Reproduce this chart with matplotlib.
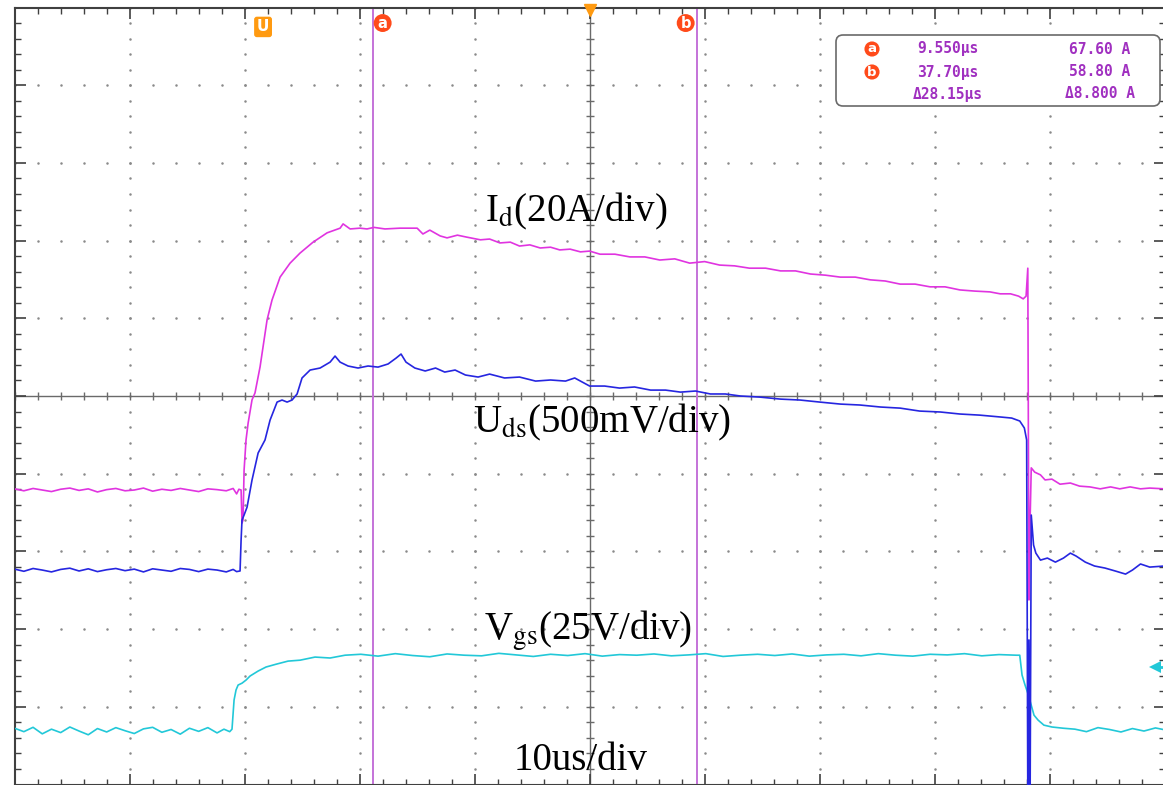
import matplotlib
matplotlib.use('Agg')
import numpy as np
import matplotlib.pyplot as plt
from matplotlib.patches import FancyBboxPatch
from matplotlib.transforms import Affine2D

id_t = [-21.6, -20.8, -20.0, -19.2, -18.4, -17.6, -16.8, -16.0, -15.2, -14.4,
        -13.6, -12.8, -12.0, -11.2, -10.4, -9.6, -8.8, -8.0, -7.2, -6.4,
        -5.6, -4.8, -4.0, -3.2, -2.6, -2.3, -2.1, -1.91, -1.83, -1.74,
        -1.65, -1.48, -1.30, -0.96, -0.70, -0.26, 0.35, 0.78, 1.48, 2.35,
        3.22, 4.35, 5.57, 6.70, 6.96, 7.57, 8.43, 9.04, 9.65, 10.6,
        11.9, 13.4, 13.9, 14.5, 15.4, 16.0, 16.9, 17.7, 18.9, 19.7,
        20.6, 21.5, 22.3, 23.2, 24.1, 25.0, 25.8, 26.7, 27.6, 28.4,
        29.3, 30.6, 31.9, 33.2, 34.5, 35.8, 37.1, 38.4, 39.7, 41.0,
        42.3, 43.7, 45.0, 46.3, 47.6, 48.9, 50.2, 51.5, 52.8, 54.1,
        55.4, 56.7, 58.0, 59.3, 60.6, 61.9, 63.2, 64.1, 65.0, 65.7,
        66.1, 66.35, 66.5, 66.6, 66.7, 66.8, 67.1, 67.6, 68.0, 68.6,
        69.3, 70.2, 71.0, 71.9, 72.8, 73.7, 74.5, 75.4, 76.3, 77.1,
        78.4]
id_a = [0.3, -0.2, 0.4, 0.0, -0.4, 0.2, 0.5, -0.1, 0.3, -0.5,
        0.1, 0.4, -0.2, 0.0, 0.5, -0.3, 0.2, -0.1, 0.4, 0.0,
        -0.4, 0.3, 0.1, -0.2, 0.4, -1.0, 0.2, 0.0, -8.5, -7.7,
        5.1, 12.9, 17.2, 23.2, 25.0, 31.7, 43.8, 48.9, 54.8, 58.4,
        61.0, 63.8, 66.2, 67.4, 68.5, 67.2, 67.4, 67.2, 67.6, 67.2,
        67.4, 67.4, 65.9, 66.9, 65.4, 64.9, 65.6, 65.1, 64.4, 64.6,
        63.6, 63.8, 62.8, 63.1, 62.3, 62.5, 61.8, 62.0, 61.3, 61.5,
        60.7, 60.7, 60.0, 60.0, 59.2, 59.5, 58.4, 58.8, 57.9, 57.7,
        57.1, 57.1, 56.4, 56.4, 55.6, 55.3, 54.8, 54.8, 54.1, 53.8,
        53.0, 53.0, 52.3, 52.3, 51.5, 51.2, 51.0, 50.5, 50.5, 49.9,
        49.2, 49.9, 57.1, -28.3, -7.7, 5.7, 4.6, 3.9, 2.6, 2.8,
        1.5, 1.8, 1.0, 0.8, 0.3, 0.8, 0.3, 0.8, 0.3, 0.5,
        0.3]

uds_t = [-21.6, -20.8, -20.0, -19.2, -18.4, -17.6, -16.8, -16.0, -15.2, -14.4,
         -13.6, -12.8, -12.0, -11.2, -10.4, -9.6, -8.8, -8.0, -7.2, -6.4,
         -5.6, -4.8, -4.0, -3.2, -2.6, -2.3, -2.0, -1.91, -1.83, -1.65,
         -1.39, -0.96, -0.43, 0.17, 0.61, 1.22, 1.65, 2.09, 2.52, 2.96,
         3.39, 4.09, 4.96, 5.83, 6.26, 6.70, 7.39, 8.26, 9.13, 10.0,
         10.87, 11.57, 12.0, 12.43, 13.2, 14.1, 15.0, 15.8, 16.7, 17.6,
         18.7, 19.7, 21.0, 22.3, 23.7, 25.0, 26.3, 27.1, 28.4, 29.7,
         31.0, 32.3, 33.7, 35.0, 36.3, 37.6, 38.9, 40.2, 41.5, 43.2,
         45.0, 46.7, 48.4, 50.2, 51.9, 53.7, 55.4, 57.1, 58.9, 60.6,
         62.3, 64.1, 65.1, 65.8, 66.2, 66.4, 66.5, 66.6, 66.7, 66.8,
         67.0, 67.2, 67.6, 68.2, 68.9, 69.6, 70.2, 70.7, 71.5, 72.3,
         73.2, 74.1, 75.0, 75.6, 76.3, 77.1, 78.4]
uds_v = [0.006, -0.008, 0.010, 0.0, -0.012, 0.004, 0.012, -0.006, 0.008, -0.010,
         0.002, 0.010, -0.004, 0.006, -0.012, 0.008, 0.0, -0.008, 0.010, 0.004,
         -0.010, 0.006, 0.0, -0.012, 0.004, -0.010, -0.006, 0.193, 0.322, 0.354,
         0.405, 0.579, 0.753, 0.837, 0.965, 1.081, 1.094, 1.081, 1.094, 1.133,
         1.236, 1.287, 1.300, 1.338, 1.377, 1.338, 1.313, 1.300, 1.313, 1.306,
         1.326, 1.364, 1.390, 1.338, 1.300, 1.281, 1.300, 1.274, 1.287, 1.255,
         1.242, 1.261, 1.236, 1.242, 1.216, 1.223, 1.216, 1.236, 1.184, 1.184,
         1.171, 1.178, 1.158, 1.158, 1.145, 1.152, 1.133, 1.133, 1.120, 1.113,
         1.100, 1.094, 1.081, 1.068, 1.062, 1.049, 1.042, 1.023, 1.017, 1.004,
         0.997, 0.985, 0.978, 0.959, 0.914, 0.837, -1.48, -0.45, -1.48, 0.354,
         0.161, 0.109, 0.064, 0.077, 0.051, 0.077, 0.109, 0.090, 0.051, 0.026,
         0.013, -0.006, -0.026, 0.0, 0.039, 0.019, 0.026]

vgs_t = [-21.6, -20.8, -20.0, -19.2, -18.4, -17.6, -16.8, -16.0, -15.2, -14.4,
         -13.6, -12.8, -12.0, -11.2, -10.4, -9.6, -8.8, -8.0, -7.2, -6.4,
         -5.6, -4.8, -4.0, -3.4, -2.9, -2.7, -2.52, -2.35, -2.17, -1.83,
         -1.48, -1.13, -0.43, 0.26, 1.13, 2.17, 3.22, 4.52, 5.83, 7.13,
         8.5, 10.0, 11.5, 13.0, 14.5, 16.0, 17.5, 19.0, 20.5, 22.0,
         23.5, 25.0, 26.5, 28.0, 29.5, 31.0, 32.5, 34.0, 35.5, 37.0,
         38.5, 40.0, 41.5, 43.0, 44.5, 46.0, 47.5, 49.0, 50.5, 52.0,
         53.5, 55.0, 56.5, 58.0, 59.5, 61.0, 62.5, 64.0, 65.5,
         65.8, 66.0, 66.26, 66.5, 66.8, 67.04, 67.4, 67.9, 68.6, 69.6,
         70.6, 71.6, 72.6, 73.6, 74.6, 75.6, 76.6, 77.6, 78.4]
vgs_v = [0.6, -0.5, 0.9, -1.2, 0.3, -0.8, 1.0, -0.3, -1.5, 0.5,
         -0.6, 0.8, -0.2, -1.1, 0.4, 0.9, -0.7, 0.2, -1.3, 0.6,
         -0.4, 0.8, -0.9, 0.3, -0.5, 0.3, 9.7, 12.9, 14.5, 15.1,
         16.1, 17.4, 19.0, 20.3, 21.2, 22.2, 22.5, 23.5, 23.2, 24.1,
         24.4, 23.8, 24.6, 24.0, 23.6, 24.5, 24.1, 23.9, 24.7, 24.2,
         23.7, 24.4, 24.0, 24.6, 23.8, 24.3, 24.1, 24.5, 23.9, 24.2,
         24.6, 23.7, 24.1, 24.4, 24.0, 24.5, 23.8, 24.2, 24.4, 23.9,
         24.6, 24.1, 23.8, 24.4, 24.2, 24.6, 23.9, 24.3, 24.1,
         24.1, 17.7, 14.5, 11.9, 8.0, 4.8, 3.2, 1.6, 1.0, 0.6,
         0.3, -0.5, 0.8, 0.2, -0.6, 0.5, -0.3, 0.7, 0.1]

# Cursores y lectura
cursor_a = 9.55
cursor_b = 37.70
readout_t = ['9.550\u00b5s', '37.70\u00b5s', '\u039428.15\u00b5s']
readout_i = ['67.60 A', '58.80 A', '\u03948.800 A']

# Escalas (unidades por division) y posicion de cada canal en divisiones
ID_SCALE, ID_POS = 20.0, -1.21
UDS_SCALE, UDS_POS = 0.5, -2.24
VGS_SCALE, VGS_POS = 25.0, -4.30

T_LEFT = -21.57          # borde izquierdo de la pantalla en us
T_DIV = 10.0             # 10 us/div
t_center = T_LEFT + 5 * T_DIV

W, H = 1163, 785
plt.rcParams['mathtext.fontset'] = 'stix'
fig = plt.figure(figsize=(W / 100, H / 100), dpi=100)
ax = fig.add_axes([15 / W, 0.5 / H, 1150 / W, 777 / H])
pix = Affine2D().scale(1 / W, 1 / H) + fig.transFigure

ax.set_xlim(T_LEFT, T_LEFT + 10 * T_DIV)
ax.set_ylim(-5, 5)

# Reticula punteada
xmaj = T_LEFT + T_DIV * np.arange(11)
xmin = T_LEFT + T_DIV / 5 * np.arange(51)
ymaj = np.arange(-5, 6)
ymin = np.linspace(-5, 5, 51)
dot = dict(ls='none', marker='o', ms=1.8, color='#8a8a8a', mew=0, zorder=1)
for xm in xmaj[1:-1]:
    if abs(xm - t_center) > 1e-6:
        ax.plot(np.full(len(ymin), xm), ymin, **dot)
for ym in ymaj[1:-1]:
    if ym != 0:
        ax.plot(xmin, np.full(len(xmin), ym), **dot)

# Ejes centrales con marcas
ax.axhline(0, color='#6a6a6a', lw=1.0, zorder=1)
ax.axvline(t_center, color='#6a6a6a', lw=1.0, zorder=1)
ax.plot(xmin, np.zeros(len(xmin)), ls='none', marker='|', ms=6, color='#6a6a6a', zorder=1)
ax.plot(np.full(len(ymin), t_center), ymin, ls='none', marker='_', ms=6, color='#6a6a6a', zorder=1)

# Borde con marcas hacia dentro
ax.set_xticks(xmaj)
ax.set_xticks(xmin, minor=True)
ax.set_yticks(ymaj)
ax.set_yticks(ymin, minor=True)
ax.tick_params(which='both', direction='in', top=True, right=True,
               labelbottom=False, labelleft=False, color='#404040')
ax.tick_params(which='major', length=8, width=1.2)
ax.tick_params(which='minor', length=4, width=1.0)
for s in ax.spines.values():
    s.set_color('#404040')
    s.set_linewidth(1.5)

# Trazas
ax.plot(vgs_t, np.array(vgs_v) / VGS_SCALE + VGS_POS, color='#22c8d8', lw=1.2, zorder=3)
ax.plot(id_t, np.array(id_a) / ID_SCALE + ID_POS, color='#e034e0', lw=1.2, zorder=4)
ax.plot(uds_t, np.array(uds_v) / UDS_SCALE + UDS_POS, color='#2626e0', lw=1.2, zorder=5)

# Cursores
ax.axvline(cursor_a, color='#c472d8', lw=1.4, zorder=2)
ax.axvline(cursor_b, color='#c472d8', lw=1.4, zorder=2)

# Marcadores superiores
ax.text(0, 4.75, 'U', color='white', fontsize=11, fontweight='bold', ha='center', va='center',
        bbox=dict(boxstyle='round,pad=0.18', fc='#ff9a10', ec='none'), zorder=6)
ax.text(cursor_a + 0.85, 4.8, 'a', color='white', fontsize=10.5, fontweight='bold', ha='center', va='center',
        bbox=dict(boxstyle='circle,pad=0.1', fc='#ff4a1a', ec='none'), zorder=6)
ax.text(cursor_b - 0.95, 4.8, 'b', color='white', fontsize=10.5, fontweight='bold', ha='center', va='center',
        bbox=dict(boxstyle='circle,pad=0.1', fc='#ff4a1a', ec='none'), zorder=6)
ax.plot([t_center], [4.97], marker='v', ms=8, color='#ff9a10', clip_on=False, zorder=6)
ax.plot([77.6], [-3.49], marker='<', ms=8, color='#22c8d8', mew=0, clip_on=False, zorder=6)
ax.plot([77.6, 78.4], [-3.49, -3.49], color='#22c8d8', lw=2, clip_on=False, zorder=6)

# Recuadro de lectura de cursores
box = FancyBboxPatch((836, H - 106), 324, 71, boxstyle='round,pad=0,rounding_size=7',
                     transform=pix, fc='white', ec='#6a6a6a', lw=1.2, zorder=7)
fig.patches.append(box)
rows = [49, 72, 94]
for i, py in enumerate(rows):
    fig.text(948, H - py, readout_t[i], transform=pix, ha='center', va='center',
             family='DejaVu Sans Mono', fontsize=10.5, fontweight='bold', color='#a030c0', zorder=8)
    fig.text(1100, H - py, readout_i[i], transform=pix, ha='center', va='center',
             family='DejaVu Sans Mono', fontsize=10.5, fontweight='bold', color='#a030c0', zorder=8)
for lab, py in zip(['a', 'b'], rows[:2]):
    fig.text(872, H - py, lab, transform=pix, ha='center', va='center', color='white',
             fontsize=9.5, fontweight='bold', zorder=8,
             bbox=dict(boxstyle='circle,pad=0.08', fc='#ff4a1a', ec='none'))

# Etiquetas de canales
lab = dict(transform=pix, ha='center', va='baseline', family='Liberation Serif',
           fontsize=28, color='black', zorder=8)
fig.text(576, H - 221, r'I$_{\mathrm{d}}$(20A/div)', **lab)
fig.text(602, H - 432, r'U$_{\mathrm{ds}}$(500mV/div)', **lab)
fig.text(588, H - 640, r'V$_{\mathrm{gs}}$(25V/div)', **lab)
fig.text(581, H - 770, '10us/div', **lab)

fig.savefig('out.png', dpi=100)
